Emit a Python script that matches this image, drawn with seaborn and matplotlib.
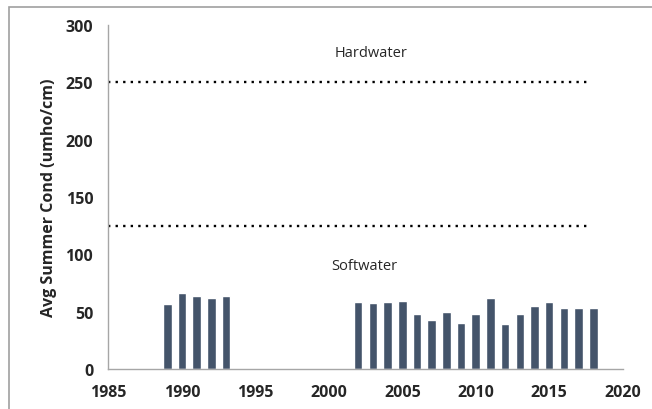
import matplotlib
matplotlib.use("Agg")
import matplotlib.pyplot as plt
import seaborn as sns
import pandas as pd
from matplotlib.patches import Rectangle

# Data
years = [1989, 1990, 1991, 1992, 1993,
         2002, 2003, 2004, 2005, 2006, 2007, 2008, 2009, 2010,
         2011, 2012, 2013, 2014, 2015, 2016, 2017, 2018]
cond = [57, 66, 64, 62, 64,
        58, 57.5, 58.5, 59.5, 47.5, 42.5, 49.5, 40.5, 48,
        62, 39, 47.5, 55, 58.5, 53.5, 53, 53]

thresholds = [250, 125]
threshold_span = [1985, 2017.8]
zone_labels = ["Hardwater", "Softwater"]
zone_label_pos = [(2002.9, 276), (2002.4, 90)]

x_ticks = [1985, 1990, 1995, 2000, 2005, 2010, 2015, 2020]
y_ticks = [0, 50, 100, 150, 200, 250, 300]

BAR_COLOR = "#44546a"
SPINE_COLOR = "#a6a6a6"

sns.set_style("white")
plt.rcParams["font.family"] = ["Open Sans", "DejaVu Sans"]

df = pd.DataFrame({"year": years, "cond": cond})

fig = plt.figure(figsize=(6.52, 4.10), dpi=100)
ax = fig.add_axes([0.1664, 0.0976, 0.955 - 0.1664, 0.937 - 0.0976])

sns.barplot(data=df, x="year", y="cond", native_scale=True, width=0.58,
            color=BAR_COLOR, saturation=1, ax=ax)

for t in thresholds:
    ax.hlines(t, threshold_span[0], threshold_span[1], colors="black",
              linestyles=(0, (1, 2.2)), linewidth=1.7)

for lab, (lx, ly) in zip(zone_labels, zone_label_pos):
    ax.text(lx, ly, lab, ha="center", va="center", fontsize=10.5)

ax.set_xlim(x_ticks[0], x_ticks[-1])
ax.set_ylim(y_ticks[0], y_ticks[-1])
ax.set_xticks(x_ticks)
ax.set_yticks(y_ticks)
ax.set_xticklabels([str(v) for v in x_ticks], fontweight="bold", fontsize=11.5)
ax.set_yticklabels([str(v) for v in y_ticks], fontweight="bold", fontsize=11.5)
ax.set_xlabel("")
ax.set_ylabel("Avg Summer Cond (umho/cm)", fontweight="bold", fontsize=11.5,
              labelpad=6)

sns.despine(ax=ax)
for side in ["left", "bottom"]:
    ax.spines[side].set_color(SPINE_COLOR)
    ax.spines[side].set_linewidth(1)
ax.tick_params(axis="both", direction="out", length=5, width=1,
               color=SPINE_COLOR, pad=6)

# outer chart-area border, running off the right and bottom edges
top = 1 - 7.5 / 410
fig.patches.append(Rectangle((8.5 / 652, -0.2), 1.2, top + 0.2,
                             transform=fig.transFigure, fill=False,
                             edgecolor="#a0a0a0", linewidth=1.2))

fig.savefig("out.png", dpi=100)
plt.close(fig)
